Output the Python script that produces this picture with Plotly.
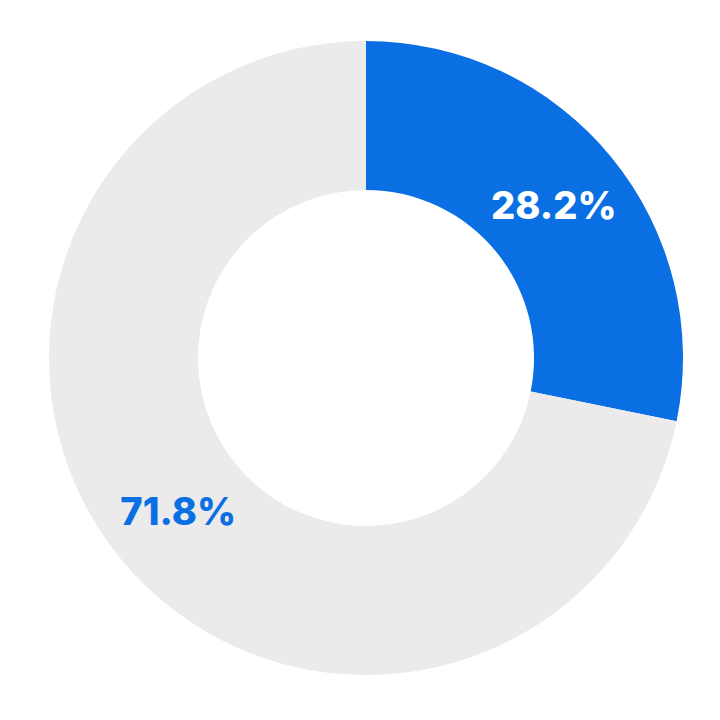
import plotly.graph_objects as go

labels = ["Share", "Rest"]
values = [28.2, 71.8]
text_labels = ["28.2%", "71.8%"]
slice_colors = ["#0A6FE3", "#EBEBEB"]
text_colors = ["#FFFFFF", "#0A6FE3"]

fig = go.Figure()
fig.add_trace(go.Pie(
    labels=labels,
    values=values,
    text=text_labels,
    textinfo="text",
    textposition="inside",
    insidetextorientation="horizontal",
    hole=0.53,
    sort=False,
    direction="clockwise",
    rotation=0,
    marker=dict(colors=slice_colors, line=dict(width=0)),
    textfont=dict(family="Inter", size=38, color=text_colors, weight=800),
    showlegend=False,
))
fig.update_layout(
    width=720, height=720,
    margin=dict(l=41, r=45, t=33, b=53),
    paper_bgcolor="white",
    plot_bgcolor="white",
    uniformtext=dict(minsize=38, mode="show"),
)
fig.write_html("out.html")
